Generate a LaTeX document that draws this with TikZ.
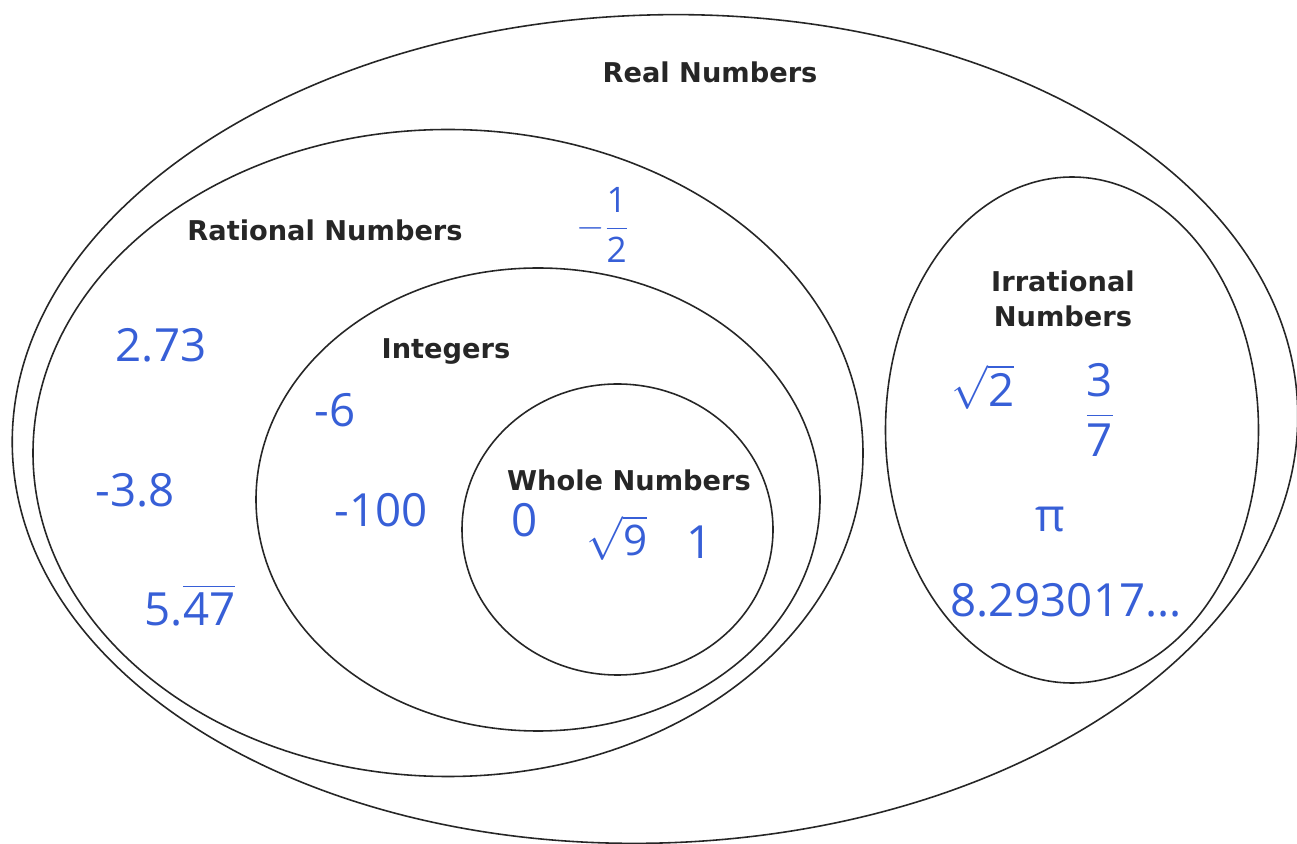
\documentclass[tikz,border=0pt]{standalone}
\usepackage{amsmath}
\usepackage{fontspec}
\setmainfont{DejaVu Sans}
\newfontfamily\handfont{Open Sans}
\usepackage{xcolor}
\usepackage{tikz}
\definecolor{ink}{RGB}{55,95,215}

\begin{document}
\begin{tikzpicture}[
    set/.style={draw=black!85, line width=0.9pt},
    lbl/.style={font=\fontsize{15.5}{20}\selectfont\bfseries, text=black!85, align=center, inner sep=0pt},
    num/.style={font=\handfont\fontsize{26}{28}\selectfont, text=ink, inner sep=0pt}
  ]
    \useasboundingbox[fill=white] (0,0) rectangle (25.94,16.88);
    % Sets
    \draw[set, rotate around={2:(13.10,8.30)}] (13.10,8.30) ellipse [x radius=12.86, y radius=8.28];
    \draw[set] (8.96,7.82) ellipse [x radius=8.30, y radius=6.47];
    \draw[set] (10.76,6.89) ellipse [x radius=5.64, y radius=4.63];
    \draw[set] (12.35,6.29) ellipse [x radius=3.11, y radius=2.91];
    \draw[set] (21.44,8.28) ellipse [x radius=3.73, y radius=5.06];
    % Set names
    \node[lbl] (real) at (14.20,15.44) {Real Numbers};
    \node[lbl] (rational) at (6.50,12.28) {Rational Numbers};
    \node[lbl] (integers) at (8.92,9.84) {Integers};
    \node[lbl] (whole) at (12.58,7.28) {Whole Numbers};
    \node[lbl] (irrational) at (21.26,10.91) {Irrational\\Numbers};
    % Rational numbers
    \node[num, font=\handfont\fontsize{20}{22}\selectfont] (half) at (12.05,12.38) {$-\dfrac{\text{1}}{\text{2}}$};
    \node[num] (n273) at (3.22,9.98) {2.73};
    \node[num] (n38) at (2.70,7.08) {-3.8};
    \node[num] (n547) at (3.80,4.78) {$\text{5.}\overline{\text{47}}$};
    % Integers
    \node[num] (n6) at (6.70,8.68) {-6};
    \node[num] (n100) at (7.62,6.68) {-100};
    % Whole numbers
    \node[num] (n0) at (10.50,6.48) {0};
    \node[num, font=\handfont\fontsize{24}{26}\selectfont] (root9) at (12.34,6.12) {$\sqrt{\text{9}}$};
    \node[num] (n1) at (14.00,6.04) {1};
    % Irrational numbers
    \node[num] (root2) at (19.66,9.14) {$\sqrt{\text{2}}$};
    \node[num] (frac37) at (22.00,8.68) {$\dfrac{\text{3}}{\text{7}}$};
    \node[num] (pi) at (21.00,6.48) {π};
    \node[num] (long) at (21.32,4.88) {8.293017...};
\end{tikzpicture}
\end{document}
